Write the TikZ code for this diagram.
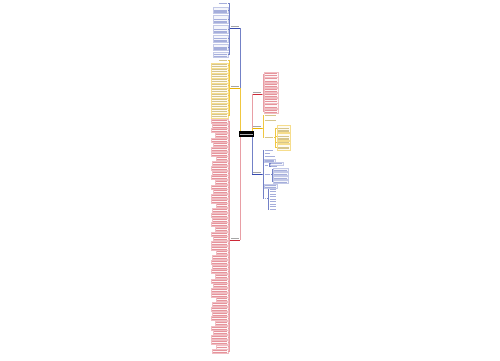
\documentclass[tikz,border=0pt]{standalone}
\usetikzlibrary{positioning,calc}
\definecolor{mapblue}{RGB}{55,75,175}
\definecolor{mapred}{RGB}{205,40,55}
\definecolor{mapyellow}{RGB}{235,180,0}

\begin{document}
\begin{tikzpicture}[x=0.5mm, y=-0.5mm,
        textlines/.style n args={2}{path picture={
            \foreach \k in {1,...,#1}
                \draw[#2, line width=0.5pt]
                    ($(path picture bounding box.north west)!{(\k-0.5)/#1}!(path picture bounding box.south west)+(0.7,0)$)
                 -- ($(path picture bounding box.north east)!{(\k-0.5)/#1}!(path picture bounding box.south east)+(-0.7,0)$);
        }},
        root_node/.style={rectangle, fill=black, inner sep=0pt, minimum width=7.5mm, minimum height=3mm, textlines={1}{white!70!black}},
        branch_node/.style={rectangle, inner sep=0pt, minimum width=5mm, minimum height=1.5mm, textlines={1}{black!35}},
        leaf/.style={rectangle, inner sep=0pt, line width=0.3pt},
        blue_leaf/.style={leaf, draw=mapblue!30, fill=mapblue!5, textlines={#1}{mapblue!45}},
        yellow_leaf/.style={leaf, draw=mapyellow!45, fill=mapyellow!5, textlines={#1}{mapyellow!70!black!45}},
        red_leaf/.style={leaf, draw=mapred!30, fill=mapred!4, textlines={#1}{mapred!50}},
        blue_text/.style={leaf, minimum height=1mm, textlines={1}{mapblue!45}},
        yellow_text/.style={leaf, minimum height=1mm, textlines={1}{mapyellow!70!black!45}},
        blue_link/.style={draw=mapblue!70, line width=0.45pt},
        red_link/.style={draw=mapred!45, line width=0.45pt},
        yellow_link/.style={draw=mapyellow!75, line width=0.45pt}
        ]
            \useasboundingbox (0,0) rectangle (500,360);

            % centre
            \node[root_node]   (root)      at (246.5,134)   {};
            % branches, left
            \node[branch_node] (blue_l)    at (235,26.5)    {};
            \node[branch_node] (yellow_l)  at (235,86.5)    {};
            \node[branch_node] (red_l)     at (235,238.5)   {};
            % branches, right
            \node[branch_node] (red_r)     at (257,92.5)    {};
            \node[branch_node] (yellow_r)  at (257,126.5)   {};
            \node[branch_node] (blue_r)    at (257,172.5)   {};

            \foreach \b/\c in {blue_l/mapblue, yellow_l/mapyellow, red_l/mapred, red_r/mapred, yellow_r/mapyellow, blue_r/mapblue}
                \draw[\c, line width=1.2pt] (\b.south west) -- (\b.south east);

            % centre to branches
            \draw[blue_link]   (blue_l.south east)   -- (blue_l.south east |- root.north);
            \draw[yellow_link] (yellow_l.south east) -- (yellow_l.south east |- root.north);
            \draw[red_link]    (red_l.south east)    -- (red_l.south east |- root.south);
            \draw[red_link]    (red_r.south west)    -- (red_r.south west |- root.north);
            \draw[yellow_link] (yellow_r.south west) -- (yellow_r.south west |- root.north);
            \draw[blue_link]   (blue_r.south west)   -- (blue_r.south west |- root.south);

            % blue, left
            \node[blue_text, minimum width=5mm] (bl1) at (223,3.5) {};
            \foreach \n/\yc/\h/\k in {2/10/3/3, 3/19/4/4, 4/29/4/4, 5/38.5/3.5/3, 6/47/3/3, 7/54.5/2.5/2}
                \node[blue_leaf=\k, minimum width=7.5mm, minimum height=\h mm] (bl\n) at (220.5,\yc) {};
            \foreach \n in {1,...,7}
                \draw[blue_link] (blue_l.south west) -- ++(-1,0) |- (bl\n.east);

            % yellow, left
            \node[yellow_text, minimum width=5mm] (yl1) at (223,60.5) {};
            \foreach \n in {2,...,12}
                \node[yellow_leaf=2, minimum width=8.5mm, minimum height=2.2mm] (yl\n) at (219.5,{65.5+5*(\n-2)}) {};
            \foreach \n in {1,...,12}
                \draw[yellow_link] (yellow_l.south west) -- ++(-1,0) |- (yl\n.east);

            % red, left
            \foreach \i in {0,...,49}{
                \pgfmathsetmacro\ww{{17,16,17,13,17,15,17,17,12,16}[mod(\i,10)]}
                \node[red_leaf=2, minimum width=\ww*0.5mm, minimum height=2mm] (rl\i) at ({228-\ww/2},{121+4.7*\i}) {};
                \draw[red_link] (red_l.south west) -- ++(-1,0) |- (rl\i.east);
            }

            % red, right
            \foreach \n in {1,...,8}{
                \node[red_leaf=2, minimum width=7mm, minimum height=2.2mm] (rr\n) at (271,{74.5+5.2*(\n-1)}) {};
                \draw[red_link] (red_r.south east) -- ++(1,0) |- (rr\n.west);
            }

            % yellow, right
            \node[yellow_text, minimum width=6.5mm] (yr1) at (270.5,115.5) {};
            \node[yellow_text, minimum width=6.5mm] (yr2) at (270.5,120.5) {};
            \node[yellow_text, minimum width=5mm]   (yr3) at (269,137)     {};
            \foreach \n in {1,2,3}
                \draw[yellow_link] (yellow_r.south east) -- ++(1,0) |- (yr\n.west);
            \foreach \n/\yc/\h/\k in {1/128.5/3.5/3, 2/136.5/3.5/3, 3/142/1.3/1, 4/147/3/2}{
                \node[yellow_leaf=\k, minimum width=6.5mm, minimum height=\h mm] (ys\n) at (283.5,\yc) {};
                \draw[yellow_link] (yr3.east) -- ++(1.5,0) |- (ys\n.west);
            }

            % blue, right
            \node[blue_text, minimum width=5mm]   (br1) at (269,150.5)   {};
            \node[blue_text, minimum width=3.5mm] (br2) at (267.5,153.5) {};
            \node[blue_text, minimum width=6mm]   (br3) at (270,156.5)   {};
            \node[blue_leaf=2, minimum width=5.5mm, minimum height=1.5mm] (br4) at (269.5,160.5) {};
            \node[blue_text, minimum width=2.5mm] (br5) at (266.5,165)   {};
            \node[blue_text, minimum width=3.5mm] (br6) at (267.5,174)   {};
            \node[blue_leaf=2, minimum width=6.5mm, minimum height=2mm] (br7) at (270.5,186) {};
            \node[blue_text, minimum width=1.5mm] (br8) at (265.5,198)   {};
            \foreach \n in {1,...,8}
                \draw[blue_link] (blue_r.south east) -- ++(1,0) |- (br\n.west);

            \node[blue_leaf=1, minimum width=6.5mm, minimum height=1.25mm] (bs51) at (276.5,163.5) {};
            \node[blue_text, minimum width=4mm] (bs52) at (274,166.5) {};
            \foreach \n in {1,2}
                \draw[blue_link] (br5.east) -- ++(0.5,0) |- (bs5\n.west);

            \foreach \n in {1,...,4}{
                \node[blue_leaf=2, minimum width=7.5mm, minimum height=1.75mm] (bs6\n) at (280.5,{169.5+4*(\n-1)}) {};
                \draw[blue_link] (br6.east) -- ++(1,0) |- (bs6\n.west);
            }

            \foreach \n in {1,...,9}{
                \node[blue_text, minimum width=4mm] (bs8\n) at (273,{189+2.5*(\n-1)}) {};
                \draw[blue_link] (br8.east) -- ++(1,0) |- (bs8\n.west);
            }
\end{tikzpicture}
\end{document}
